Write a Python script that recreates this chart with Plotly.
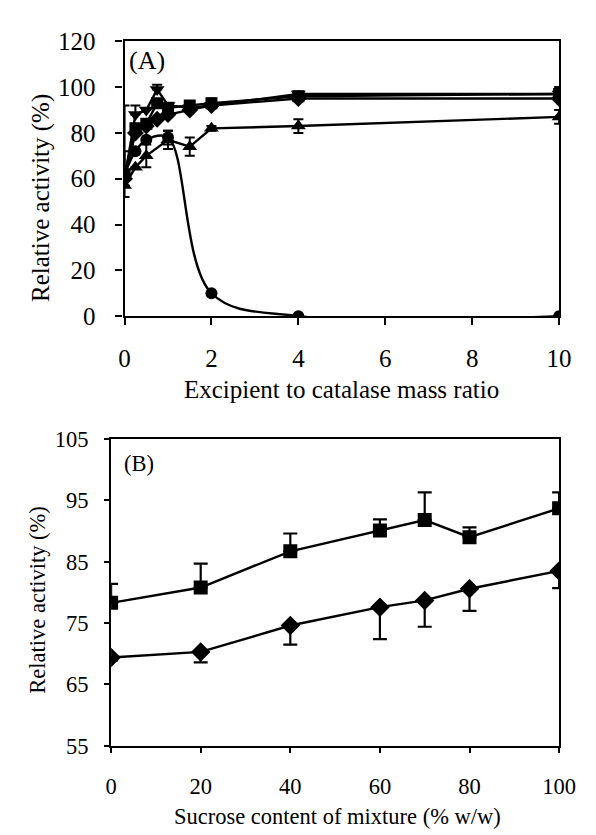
import plotly.graph_objects as go

# ---------- Panel A data ----------
ratio_all = [0, 0.25, 0.5, 0.75, 1, 1.5, 2, 4, 10]
ratio_tri_up = [0, 0.25, 0.5, 1, 1.5, 2, 4, 10]
ratio_circle = [0, 0.25, 0.5, 1, 2, 4, 10]

a_circle = [62, 72, 77, 78, 10, 0, 0]
a_circle_err = [10, 0, 0, 3, 0, 0, 0]
a_square = [62, 82, 84, 93, 91, 92, 93, 96, 97]
a_square_err = [0, 0, 0, 0, 0, 0, 2, 0, 3]
a_diamond = [60, 80, 83, 86, 88, 90, 92, 95, 95]
a_tri_up = [57, 65, 70, 77, 74, 82, 83, 87]
a_tri_up_err = [0, 0, 5, 4, 4, 1, 3, 3]
a_tri_down = [60, 88, 90, 99, 92, 91, 92, 97, 97]
a_tri_down_err_up = [32, 4, 0, 2, 0, 0, 0, 1, 0]

a_xticks = [0, 2, 4, 6, 8, 10]
a_yticks = [0, 20, 40, 60, 80, 100, 120]

# ---------- Panel B data ----------
sucrose = [0, 20, 40, 60, 70, 80, 100]
b_square = [78.3, 80.8, 86.7, 90.1, 91.8, 89.0, 93.7]
b_square_err_up = [3.1, 3.9, 2.9, 1.8, 4.5, 1.6, 2.6]
b_diamond = [69.4, 70.3, 74.6, 77.6, 78.7, 80.6, 83.5]
b_diamond_err_down = [0.5, 1.7, 3.1, 5.2, 4.3, 3.6, 2.8]

b_xticks = [0, 20, 40, 60, 80, 100]
b_yticks = [55, 65, 75, 85, 95, 105]

FONT = "Liberation Serif"
W, H = 596, 835
FA = 25     # panel A font size
FB = 22.5   # panel B font size

fig = go.Figure()

def err(arr, width=5):
    return dict(type="data", array=arr, arrayminus=arr, symmetric=True,
                color="black", thickness=2, width=width, visible=True)

LW = 2.4
# Panel A traces
fig.add_trace(go.Scatter(x=ratio_circle, y=a_circle, mode="lines+markers",
                         line=dict(color="black", width=LW, shape="spline", smoothing=1.0),
                         marker=dict(symbol="circle", size=12, color="black"),
                         error_y=err(a_circle_err), xaxis="x", yaxis="y", showlegend=False))
fig.add_trace(go.Scatter(x=ratio_all, y=a_square, mode="lines+markers",
                         line=dict(color="black", width=LW),
                         marker=dict(symbol="square", size=12, color="black"),
                         error_y=err(a_square_err), xaxis="x", yaxis="y", showlegend=False))
fig.add_trace(go.Scatter(x=ratio_all, y=a_diamond, mode="lines+markers",
                         line=dict(color="black", width=LW),
                         marker=dict(symbol="diamond", size=13, color="black"),
                         xaxis="x", yaxis="y", showlegend=False))
fig.add_trace(go.Scatter(x=ratio_tri_up, y=a_tri_up, mode="lines+markers",
                         line=dict(color="black", width=LW),
                         marker=dict(symbol="triangle-up", size=13, color="black"),
                         error_y=err(a_tri_up_err), xaxis="x", yaxis="y", showlegend=False))
fig.add_trace(go.Scatter(x=ratio_all, y=a_tri_down, mode="lines+markers",
                         line=dict(color="black", width=LW),
                         marker=dict(symbol="triangle-down", size=13, color="black"),
                         error_y=dict(type="data", symmetric=False, array=a_tri_down_err_up,
                                      arrayminus=[0] * len(a_tri_down), color="black",
                                      thickness=2, width=5),
                         xaxis="x", yaxis="y", showlegend=False))

# Panel B traces
fig.add_trace(go.Scatter(x=sucrose, y=b_square, mode="lines+markers",
                         line=dict(color="black", width=LW),
                         marker=dict(symbol="square", size=14, color="black"),
                         error_y=dict(type="data", symmetric=False, array=b_square_err_up,
                                      arrayminus=[0] * len(b_square), color="black",
                                      thickness=2.2, width=7),
                         xaxis="x2", yaxis="y2", showlegend=False))
fig.add_trace(go.Scatter(x=sucrose, y=b_diamond, mode="lines+markers",
                         line=dict(color="black", width=LW),
                         marker=dict(symbol="diamond", size=15, color="black"),
                         error_y=dict(type="data", symmetric=False, array=[0] * len(b_diamond),
                                      arrayminus=b_diamond_err_down, color="black",
                                      thickness=2.2, width=7),
                         xaxis="x2", yaxis="y2", showlegend=False))

def axis_common(ticklen, standoff, size):
    return dict(showline=True, linecolor="black", linewidth=2.2, mirror=True,
                ticks="outside", ticklen=ticklen, tickwidth=1.5, tickcolor="black",
                showgrid=False, zeroline=False, ticklabelstandoff=standoff,
                tickfont=dict(size=size, family=FONT, color="black"))

def label(text, x, y, size, angle=0):
    return dict(text=text, x=x / W, y=1 - y / H, xref="paper", yref="paper",
                xanchor="center", yanchor="middle", showarrow=False,
                textangle=angle, font=dict(size=size, family=FONT, color="black"))

fig.update_layout(
    width=W, height=H,
    margin=dict(l=0, r=0, t=0, b=0),
    paper_bgcolor="white", plot_bgcolor="white",
    font=dict(family=FONT, color="black", size=FA),
    xaxis=dict(domain=[115 / W, 567 / W], range=[0, 10], tickvals=a_xticks,
               anchor="y", **axis_common(7, 12, FA)),
    yaxis=dict(domain=[1 - 305 / H, 1 - 21 / H], range=[0, 120], tickvals=a_yticks,
               anchor="x", **axis_common(7, 15, FA)),
    xaxis2=dict(domain=[101 / W, 567 / W], range=[0, 100], tickvals=b_xticks,
                anchor="y2", **axis_common(5, 14, FB)),
    yaxis2=dict(domain=[1 - 749 / H, 1 - 432 / H], range=[55, 105], tickvals=b_yticks,
                anchor="x2", **axis_common(5, 11, FB)),
    annotations=[
        label("(A)", 138, 41, FA + 1),
        label("(B)", 130, 457, FB),
        label("Relative activity (%)", 28, 183, FA, -90),
        label("Excipient to catalase mass ratio", 341, 381, FA),
        label("Relative activity (%)", 25, 599, FB, -90),
        label("Sucrose content of mixture (% w/w)", 336, 822, FB),
    ],
)

fig.write_html("out.html")
